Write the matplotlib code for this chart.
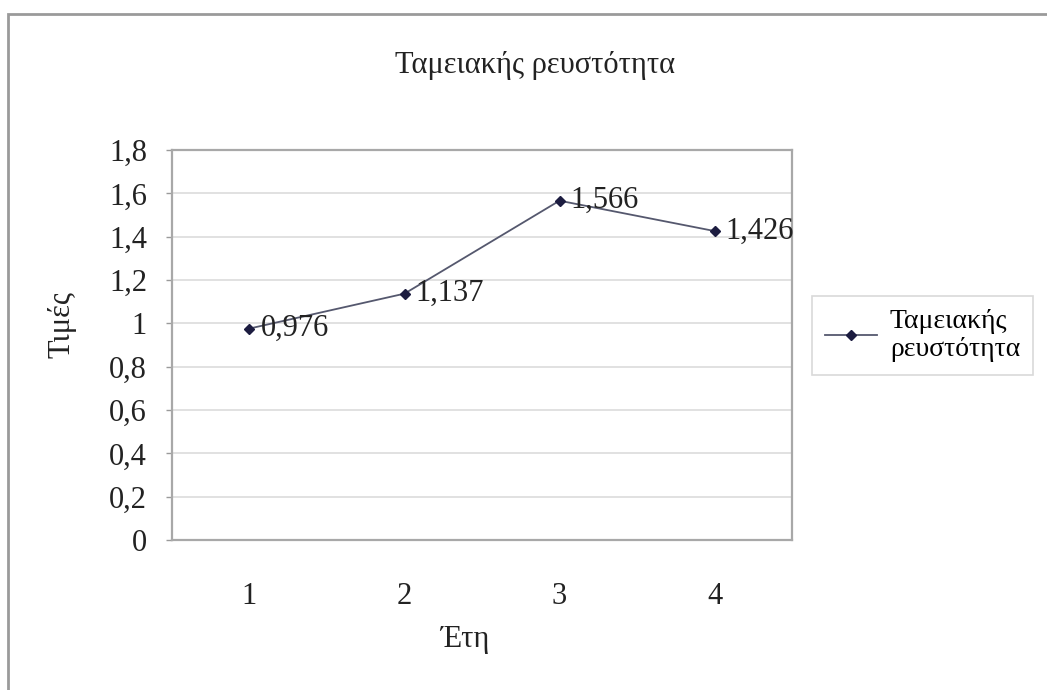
import matplotlib.pyplot as plt
from matplotlib.patches import Rectangle

years = [1, 2, 3, 4]
values = [0.976, 1.137, 1.566, 1.426]
yticks = [0, 0.2, 0.4, 0.6, 0.8, 1.0, 1.2, 1.4, 1.6, 1.8]

title = 'Ταμειακής ρευστότητα'
series_name = 'Ταμειακής\nρευστότητα'
xlabel = 'Έτη'
ylabel = 'Τιμές'

def fmt(v):
    s = ('%g' % v).replace('.', ',')
    return s

plt.rcParams['font.family'] = ['Liberation Serif', 'DejaVu Serif']
fs = 22

fig = plt.figure(figsize=(10.47, 6.90), dpi=100)
fig.patch.set_facecolor('white')

# outer chart frame
fig.patches.append(Rectangle((8 / 1047, -0.02), 1.0, 1 - 14 / 690 + 0.02,
                             transform=fig.transFigure, fill=False,
                             edgecolor='#9a9a9a', linewidth=2.0))

ax = fig.add_axes([172 / 1047, 1 - 540 / 690, 620 / 1047, 390 / 690])
ax.plot(years, values, color='#55586e', linewidth=1.3, marker='D',
        markersize=5, markerfacecolor='#1c1c40', markeredgecolor='#1c1c40',
        label=series_name)

for x, v in zip(years, values):
    ax.annotate(fmt(v), (x, v), xytext=(8, 0), textcoords='offset points',
                ha='left', va='center', fontsize=fs, color='#222222')

ax.set_xlim(0.5, 4.5)
ax.set_ylim(0, 1.8)
ax.set_yticks(yticks)
ax.set_yticklabels([fmt(t) for t in yticks], fontsize=fs, color='#222222')
ax.set_xticks(years)
ax.set_xticklabels([str(y) for y in years], fontsize=fs, color='#222222')
ax.tick_params(axis='x', length=0, pad=30)
ax.tick_params(axis='y', length=4, width=1, color='#9a9a9a', pad=14)
ax.grid(axis='y', color='#dcdcdc', linewidth=1.2)
ax.set_axisbelow(True)
for s in ax.spines.values():
    s.set_color('#a8a8a8')
    s.set_linewidth(1.6)

fig.text(535 / 1047, 1 - 65 / 690, title, ha='center', va='center',
         fontsize=fs, color='#222222')
fig.text(465 / 1047, 1 - 640 / 690, xlabel, ha='center', va='center',
         fontsize=fs, color='#222222')
fig.text(62 / 1047, 1 - 325 / 690, ylabel, ha='center', va='center',
         rotation=90, fontsize=fs, color='#222222')

leg = ax.legend(loc='upper left', bbox_to_anchor=(812 / 1047, 1 - 296 / 690),
                bbox_transform=fig.transFigure, fontsize=20, frameon=True,
                fancybox=False, handlelength=1.9, handletextpad=0.45,
                borderpad=0.45, borderaxespad=0, labelspacing=0.2)
leg.get_frame().set_edgecolor('#d0d0d0')
leg.get_frame().set_linewidth(1.2)

fig.savefig('out.png', dpi=100)
